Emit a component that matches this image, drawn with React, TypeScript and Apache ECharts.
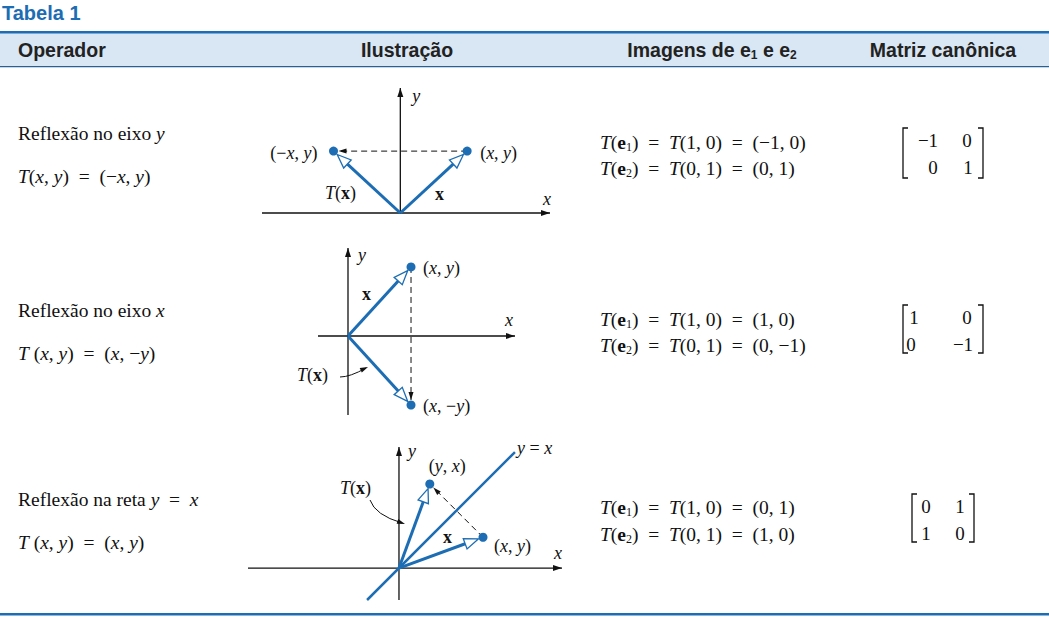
import React, { useEffect, useRef } from "react";
import * as echarts from "echarts";

const headers = ["Operador", "Ilustração", "Imagens de e₁ e e₂", "Matriz canônica"];
// vectors x and T(x) per row
const vecX = [[1, 1], [1, 1], [3, 1.1]];
const vecT = [[-1, 1], [1, -1], [1.1, 3]];
// axis ranges per illustration [xmin,xmax,ymin,ymax]
const ranges = [[-2.07, 2.24, 0, 2.02], [-0.476, 2.65, -1.145, 1.275], [-5.39, 5.82, -1.14, 4.32]];
const grids = [
  { left: 262, top: 88, width: 288, height: 125 },
  { left: 318, top: 248, width: 197, height: 167 },
  { left: 248, top: 447, width: 314, height: 153 },
];
const matrices = [[["−1", "0"], ["0", "1"]], [["1", "0"], ["0", "−1"]], [["0", "1"], ["1", "0"]]];
const images = [
  ["(−1, 0)", "(0, 1)"],
  ["(1, 0)", "(0, −1)"],
  ["(0, 1)", "(1, 0)"],
];

const SERIF = "Liberation Serif";
const SANS = "Liberation Sans";
const BLUE = "#1c6db3";

function arrow(p: number[], q: number[], len: number, w: number) {
  const dx = q[0] - p[0], dy = q[1] - p[1];
  const L = Math.hypot(dx, dy);
  const ux = dx / L, uy = dy / L, nx = -uy, ny = ux;
  const bx = q[0] - ux * len, by = q[1] - uy * len;
  return { pts: [q, [bx + nx * w / 2, by + ny * w / 2], [bx - nx * w / 2, by - ny * w / 2]], base: [bx, by] };
}
function back(p: number[], q: number[], d: number) {
  const dx = q[0] - p[0], dy = q[1] - p[1];
  const L = Math.hypot(dx, dy);
  return [q[0] - dx / L * d, q[1] - dy / L * d];
}
function mkRich(fs: number) {
  return {
    i: { fontFamily: SERIF, fontStyle: "italic", fontSize: fs, fill: "#111" },
    b: { fontFamily: SERIF, fontWeight: "bold", fontSize: fs, fill: "#111" },
    n: { fontFamily: SERIF, fontSize: fs, fill: "#111" },
    s: { fontFamily: SERIF, fontSize: Math.round(fs * 0.62), fill: "#111", padding: [Math.round(fs * 0.5), 0, 0, 0] },
  };
}
const richIll = mkRich(18);
const richBody = mkRich(19.5);
function txt(x: number, y: number, text: string, align = "left") {
  return { type: "text", style: { x, y, text, rich: richIll, align, verticalAlign: "middle", font: `18px ${SERIF}`, fill: "#111" } };
}

function makeRender(r: number) {
  return (params: any, api: any) => {
    const c = (v: number[]) => api.coord(v);
    const rg = ranges[r];
    const O = c([0, 0]);
    const ch: any[] = [];
    const axis = (a: number[], b: number[]) => {
      const A = c(a), B = c(b);
      ch.push({ type: "line", shape: { x1: A[0], y1: A[1], x2: B[0], y2: B[1] }, style: { stroke: "#111", lineWidth: 1.3 } });
      ch.push({ type: "polygon", shape: { points: arrow(A, B, 9, 6).pts }, style: { fill: "#111" } });
    };
    axis([rg[0], 0], [rg[1], 0]);
    axis([0, r === 0 ? 0 : rg[2]], [0, rg[3]]);
    if (r === 2) {
      const A = c([rg[2], rg[2]]), B = c([4.14, 4.14]);
      ch.push({ type: "line", shape: { x1: A[0], y1: A[1], x2: B[0], y2: B[1] }, style: { stroke: BLUE, lineWidth: 2.5 } });
    }
    const P = c(vecX[r]), Q = c(vecT[r]);
    const dEnd = back(P, Q, 5);
    ch.push({ type: "line", shape: { x1: P[0], y1: P[1], x2: dEnd[0], y2: dEnd[1] }, style: { stroke: "#111", lineWidth: 1, lineDash: [6, 4] } });
    ch.push({ type: "polygon", shape: { points: arrow(P, dEnd, 8, 5).pts }, style: { fill: "#111" } });
    [P, Q].forEach((T) => {
      const tip = back(O, T, 5);
      const a = arrow(O, tip, 14, 11);
      ch.push({ type: "line", shape: { x1: O[0], y1: O[1], x2: a.base[0], y2: a.base[1] }, style: { stroke: BLUE, lineWidth: 3 } });
      ch.push({ type: "polygon", shape: { points: a.pts }, style: { fill: "#fff", stroke: BLUE, lineWidth: 1.3 } });
      ch.push({ type: "circle", shape: { cx: T[0], cy: T[1], r: 4.5 }, style: { fill: BLUE } });
    });
    const yTop = c([0, rg[3]]), xEnd = c([rg[1], 0]);
    if (r === 0) {
      ch.push(txt(yTop[0] + 12, yTop[1] + 8, "{i|y}"));
      ch.push(txt(xEnd[0] - 7, xEnd[1] - 14, "{i|x}"));
      ch.push(txt(P[0] + 13, P[1] + 2, "{n|(}{i|x}{n|, }{i|y}{n|)}"));
      ch.push(txt(Q[0] - 16, Q[1] + 2, "{n|(−}{i|x}{n|, }{i|y}{n|)}", "right"));
      ch.push(txt(435, 194, "{b|x}"));
      ch.push(txt(325, 193, "{i|T}{n|(}{b|x}{n|)}"));
    } else if (r === 1) {
      ch.push(txt(yTop[0] + 10, yTop[1] + 7, "{i|y}"));
      ch.push(txt(xEnd[0] - 10, xEnd[1] - 16, "{i|x}"));
      ch.push(txt(P[0] + 12, P[1] + 1, "{n|(}{i|x}{n|, }{i|y}{n|)}"));
      ch.push(txt(Q[0] + 12, Q[1] + 1, "{n|(}{i|x}{n|, −}{i|y}{n|)}"));
      ch.push(txt(362, 294, "{b|x}"));
      ch.push(txt(297, 375, "{i|T}{n|(}{b|x}{n|)}"));
      ch.push({ type: "bezierCurve", shape: { x1: 340, y1: 377, cpx1: 350, cpy1: 377, x2: 366, y2: 368 }, style: { stroke: "#111", lineWidth: 1, fill: null } });
      ch.push({ type: "polygon", shape: { points: arrow([355, 373], [368, 367], 8, 5).pts }, style: { fill: "#111" } });
    } else {
      ch.push(txt(yTop[0] + 9, yTop[1] + 4, "{i|y}"));
      ch.push(txt(xEnd[0] - 8, xEnd[1] - 15, "{i|x}"));
      ch.push(txt(517, 448, "{i|y}{n| = }{i|x}"));
      ch.push(txt(P[0] + 11, P[1] + 9, "{n|(}{i|x}{n|, }{i|y}{n|)}"));
      ch.push(txt(Q[0] - 1, Q[1] - 18, "{n|(}{i|y}{n|, }{i|x}{n|)}"));
      ch.push(txt(443, 537, "{b|x}"));
      ch.push(txt(340, 488, "{i|T}{n|(}{b|x}{n|)}"));
      ch.push({ type: "bezierCurve", shape: { x1: 370, y1: 500, cpx1: 375, cpy1: 515, x2: 402, y2: 523 }, style: { stroke: "#111", lineWidth: 1, fill: null } });
      ch.push({ type: "polygon", shape: { points: arrow([390, 519], [405, 524], 8, 5).pts }, style: { fill: "#111" } });
    }
    return { type: "group", children: ch };
  };
}

function bracket(x1: number, x2: number, y1: number, y2: number) {
  const st = { stroke: "#111", lineWidth: 1.3, fill: null };
  return [
    { type: "polyline", shape: { points: [[x1 + 5, y1], [x1, y1], [x1, y2], [x1 + 5, y2]] }, style: st },
    { type: "polyline", shape: { points: [[x2 - 5, y1], [x2, y1], [x2, y2], [x2 - 5, y2]] }, style: st },
  ];
}

export default function App() {
  const ref = useRef<HTMLDivElement>(null);
  useEffect(() => {
    document.body.style.margin = "0";
    const chart = echarts.init(ref.current!, null, { renderer: "svg" });
    const g: any[] = [];
    g.push({ type: "text", left: 2, top: 3, style: { text: "Tabela 1", font: `bold 20px ${SANS}`, fill: BLUE } });
    g.push({ type: "rect", shape: { x: 0, y: 33, width: 1049, height: 34 }, style: { fill: "#d9e6f3" } });
    g.push({ type: "rect", shape: { x: 0, y: 31, width: 1049, height: 2.5 }, style: { fill: BLUE } });
    g.push({ type: "rect", shape: { x: 0, y: 66, width: 1049, height: 1.2 }, style: { fill: "#2a5f94" } });
    g.push({ type: "rect", shape: { x: 0, y: 613, width: 1049, height: 2.5 }, style: { fill: BLUE } });
    const hx = [18, 407, 712, 943];
    const hAlign = ["left", "center", "center", "center"];
    const hs = { fontFamily: SANS, fontWeight: "bold", fontSize: 19.5, fill: "#222" };
    const hRich = { h: hs, s: { ...hs, fontSize: 12, padding: [9, 0, 0, 0] } };
    const hText = ["{h|Operador}", "{h|Ilustração}", "{h|Imagens de e}{s|1}{h| e e}{s|2}", "{h|Matriz canônica}"];
    hText.forEach((t, i) => g.push({ type: "text", x: hx[i], y: 50, style: { text: t, rich: hRich, align: hAlign[i], verticalAlign: "middle" } }));
    const ops = [
      ["{n|Reflexão no eixo }{i|y}", "{i|T}{n|(}{i|x}{n|, }{i|y}{n|)  =  (−}{i|x}{n|, }{i|y}{n|)}"],
      ["{n|Reflexão no eixo }{i|x}", "{i|T}{n| (}{i|x}{n|, }{i|y}{n|)  =  (}{i|x}{n|, −}{i|y}{n|)}"],
      ["{n|Reflexão na reta }{i|y}{n|  =  }{i|x}", "{i|T}{n| (}{i|x}{n|, }{i|y}{n|)  =  (}{i|x}{n|, }{i|y}{n|)}"],
    ];
    const opY = [[133, 176], [310, 353], [499, 542]];
    ops.forEach((o, r) => o.forEach((t, k) => g.push({ type: "text", x: 18, y: opY[r][k], style: { text: t, rich: richBody, verticalAlign: "middle" } })));
    const imY = [[142, 168], [319, 345], [507, 534]];
    images.forEach((im, r) => im.forEach((v, k) => g.push({
      type: "text", x: 600, y: imY[r][k],
      style: { text: `{i|T}{n|(}{b|e}{s|${k + 1}}{n|)  =  }{i|T}{n|(${k === 0 ? "1, 0" : "0, 1"})  =  ${v}}`, rich: richBody, verticalAlign: "middle" },
    })));
    const mB = [[903, 983, 128, 178], [903, 983, 305, 353], [912, 974, 494, 542]];
    const mX = [[[928, 967], [933, 968]], [[914, 967], [911, 963]], [[926, 960], [926, 960]]];
    matrices.forEach((m, r) => {
      const [x1, x2, y1, y2] = mB[r];
      g.push(...bracket(x1, x2, y1, y2));
      m.forEach((row, i) => row.forEach((v, j) => g.push({
        type: "text", x: mX[r][i][j], y: y1 + 12 + i * 27,
        style: { text: v, font: `19px ${SERIF}`, fill: "#111", align: "center", verticalAlign: "middle" },
      })));
    });
    chart.setOption({
      animation: false,
      grid: grids.map((gr) => ({ ...gr, containLabel: false })),
      xAxis: ranges.map((rg, i) => ({ type: "value", gridIndex: i, min: rg[0], max: rg[1], show: false })),
      yAxis: ranges.map((rg, i) => ({ type: "value", gridIndex: i, min: rg[2], max: rg[3], show: false })),
      series: ranges.map((_, i) => ({
        type: "custom", xAxisIndex: i, yAxisIndex: i, data: [[0, 0]], renderItem: makeRender(i), silent: true,
      })),
      graphic: g,
    });
    return () => chart.dispose();
  }, []);
  return <div ref={ref} style={{ width: 1049, height: 621 }} />;
}
